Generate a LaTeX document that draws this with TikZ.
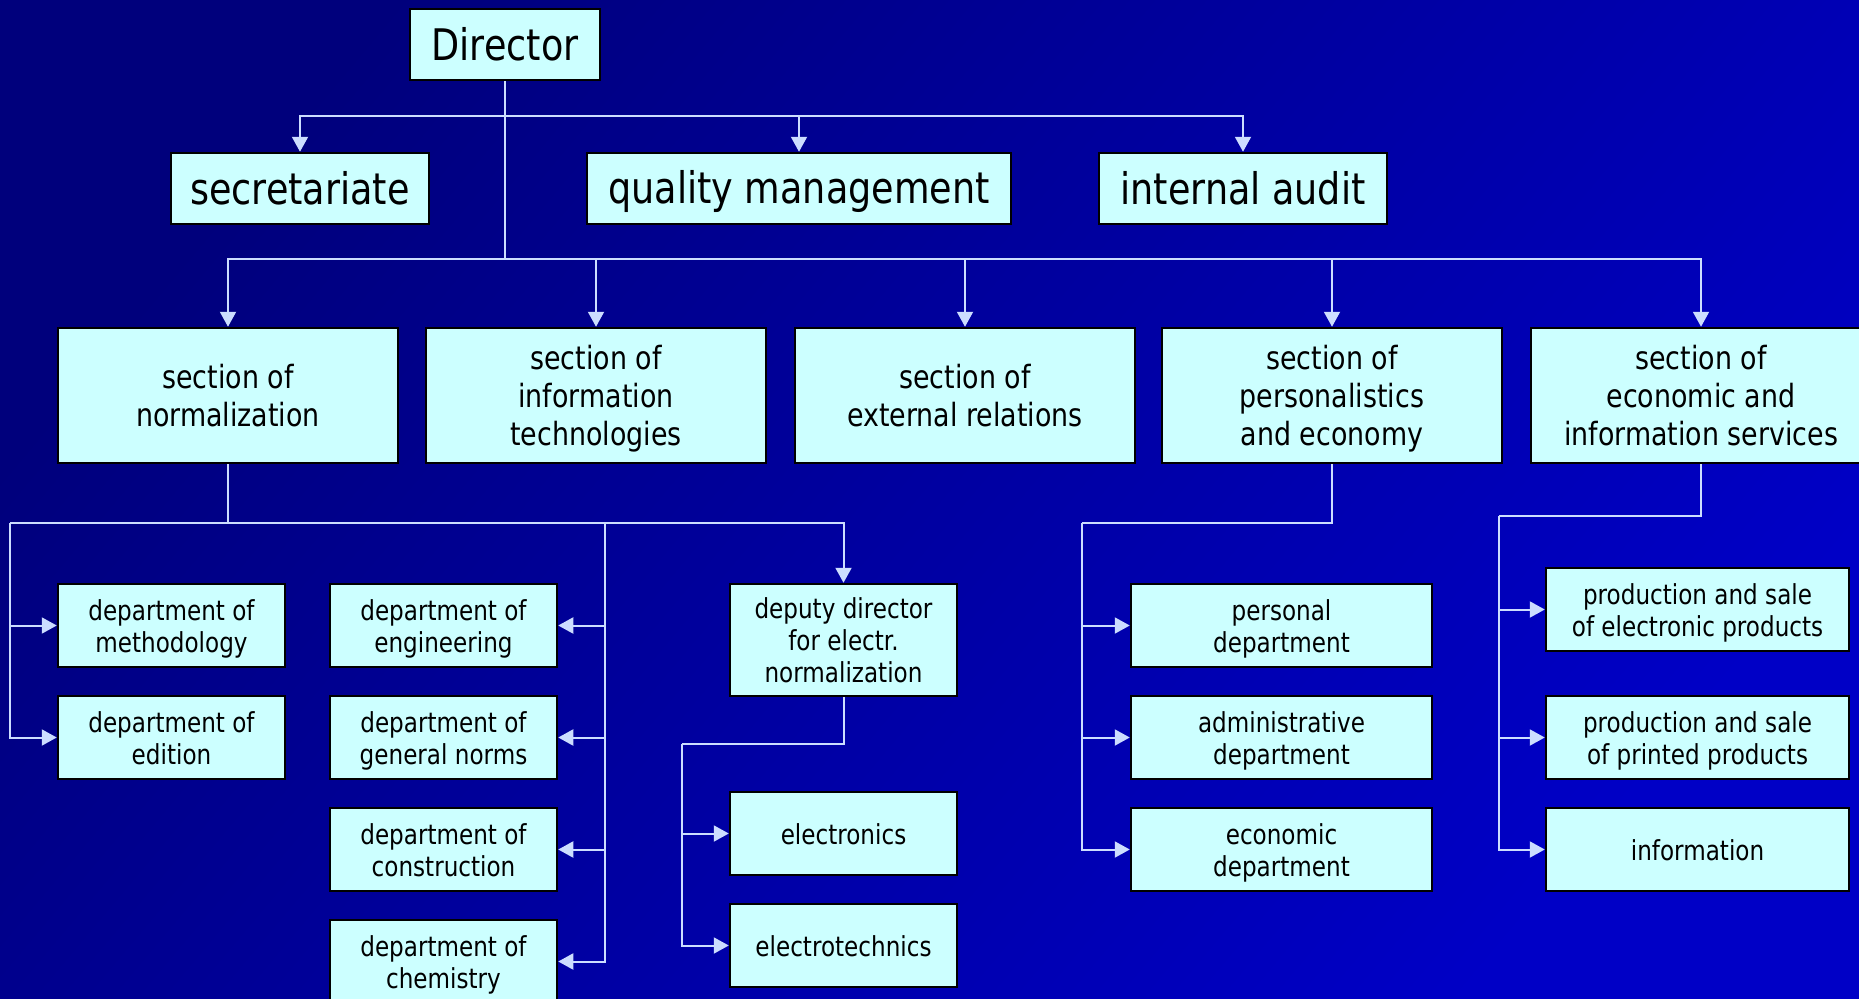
\documentclass[tikz,border=0pt]{standalone}
\usepackage{fontspec}
\setmainfont{DejaVu Sans}[FakeStretch=0.84]
\usetikzlibrary{arrows.meta}
\definecolor{bgA}{HTML}{00007C}
\definecolor{bgB}{HTML}{0000C6}
\definecolor{boxfill}{HTML}{CCFFFF}
\definecolor{linec}{HTML}{CCDDFF}
\newlength\stH
\newlength\stD
\newcommand\sA{\rule{0pt}{\stH}}
\newcommand\sZ{\rule[-\stD]{0pt}{\stD}}
\begin{document}
\begin{tikzpicture}[x=1pt,y=-1pt,
 box/.style={draw=black, line width=2.5pt, fill=boxfill, inner sep=0pt, align=center, text=black},
 bigbox/.style={box, minimum height=71pt, font={\fontsize{43.5}{52}\selectfont\setlength\stH{40pt}\setlength\stD{8pt}}},
 secbox/.style={box, minimum width=340pt, minimum height=135pt, font={\fontsize{32}{38}\selectfont\setlength\stH{34pt}\setlength\stD{10pt}}},
 dept/.style={box, minimum height=83pt, font={\fontsize{27.5}{32}\selectfont\setlength\stH{29pt}\setlength\stD{8pt}}},
 wire/.style={draw=linec, line width=2pt},
 arr/.style={wire, -{Triangle[length=15pt,width=16pt]}}]
\useasboundingbox (0,0) rectangle (1859,998);
\clip (0,0) rectangle (1859,998);
\shade[top color=bgA, bottom color=bgB, shading angle=50] (0,0) rectangle (1859,998);

% top level
\node[bigbox, minimum width=190pt] (dir) at (505,44.5) {\sA Director\sZ};
\node[bigbox, minimum width=258pt] (sec) at (300,188.5) {\sA secretariate\sZ};
\node[bigbox, minimum width=424pt] (qm) at (799,188.5) {\sA quality management\sZ};
\node[bigbox, minimum width=288pt] (ia) at (1243,188.5) {\sA internal audit\sZ};

% sections
\node[secbox] (sN) at (228,395.5) {\sA section of\\normalization\sZ};
\node[secbox] (sI) at (596,395.5) {\sA section of\\information\\technologies\sZ};
\node[secbox] (sX) at (965,395.5) {\sA section of\\external relations\sZ};
\node[secbox] (sP) at (1332,395.5) {\sA section of\\personalistics\\and economy\sZ};
\node[secbox] (sE) at (1701,395.5) {\sA section of\\economic and\\information services\sZ};

% departments
\node[dept, minimum width=227pt] (meth) at (171.5,625.5) {\sA department of\\methodology\sZ};
\node[dept, minimum width=227pt] (edit) at (171.5,737.5) {\sA department of\\edition\sZ};
\node[dept, minimum width=227pt] (eng) at (443.5,625.5) {\sA department of\\engineering\sZ};
\node[dept, minimum width=227pt] (gen) at (443.5,737.5) {\sA department of\\general norms\sZ};
\node[dept, minimum width=227pt] (con) at (443.5,849.5) {\sA department of\\construction\sZ};
\node[dept, minimum width=227pt] (chem) at (443.5,961.5) {\sA department of\\chemistry\sZ};
\node[dept, minimum width=227pt, minimum height=112pt] (dep) at (843.5,640) {\sA deputy director\\for electr.\\normalization\sZ};
\node[dept, minimum width=227pt] (elx) at (843.5,833.5) {\sA electronics\sZ};
\node[dept, minimum width=227pt] (elt) at (843.5,945.5) {\sA electrotechnics\sZ};
\node[dept, minimum width=301pt] (pers) at (1281.5,625.5) {\sA personal\\department\sZ};
\node[dept, minimum width=301pt] (adm) at (1281.5,737.5) {\sA administrative\\department\sZ};
\node[dept, minimum width=301pt] (eco) at (1281.5,849.5) {\sA economic\\department\sZ};
\node[dept, minimum width=303pt] (pr1) at (1697.5,609.5) {\sA production and sale\\of electronic products\sZ};
\node[dept, minimum width=303pt] (pr2) at (1697.5,737.5) {\sA production and sale\\of printed products\sZ};
\node[dept, minimum width=303pt] (inf) at (1697.5,849.5) {\sA information\sZ};

% director connectors
\coordinate (b1) at (505,116);
\coordinate (b2) at (505,259);
\draw[wire] (dir.south) -- (b2);
\draw[arr] (b1) -| (sec.north);
\draw[arr] (b1) -| (qm.north);
\draw[arr] (b1) -| (ia.north);
\draw[arr] (b2) -| (sN.north);
\draw[arr] (b2) -| (sI.north);
\draw[arr] (b2) -| (sX.north);
\draw[arr] (b2) -| (sP.north);
\draw[arr] (b2) -| (sE.north);

% normalization
\coordinate (nL) at (10,523);
\coordinate (nR) at (605,523);
\draw[wire] (sN.south) |- (nL);
\draw[arr] (nL) |- (meth.west);
\draw[arr] (nL) |- (edit.west);
\draw[wire] (sN.south) |- (nR);
\draw[arr] (nR) |- (eng.east);
\draw[arr] (nR) |- (gen.east);
\draw[arr] (nR) |- (con.east);
\draw[arr] (nR) |- (chem.east);
\draw[arr] (nR) -| (dep.north);

% deputy
\coordinate (dL) at (682,744);
\draw[wire] (dep.south) |- (dL);
\draw[arr] (dL) |- (elx.west);
\draw[arr] (dL) |- (elt.west);

% personalistics
\coordinate (pL) at (1082,523);
\draw[wire] (sP.south) |- (pL);
\draw[arr] (pL) |- (pers.west);
\draw[arr] (pL) |- (adm.west);
\draw[arr] (pL) |- (eco.west);

% economic
\coordinate (eL) at (1499,516);
\draw[wire] (sE.south) |- (eL);
\draw[arr] (eL) |- (pr1.west);
\draw[arr] (eL) |- (pr2.west);
\draw[arr] (eL) |- (inf.west);
\end{tikzpicture}
\end{document}
